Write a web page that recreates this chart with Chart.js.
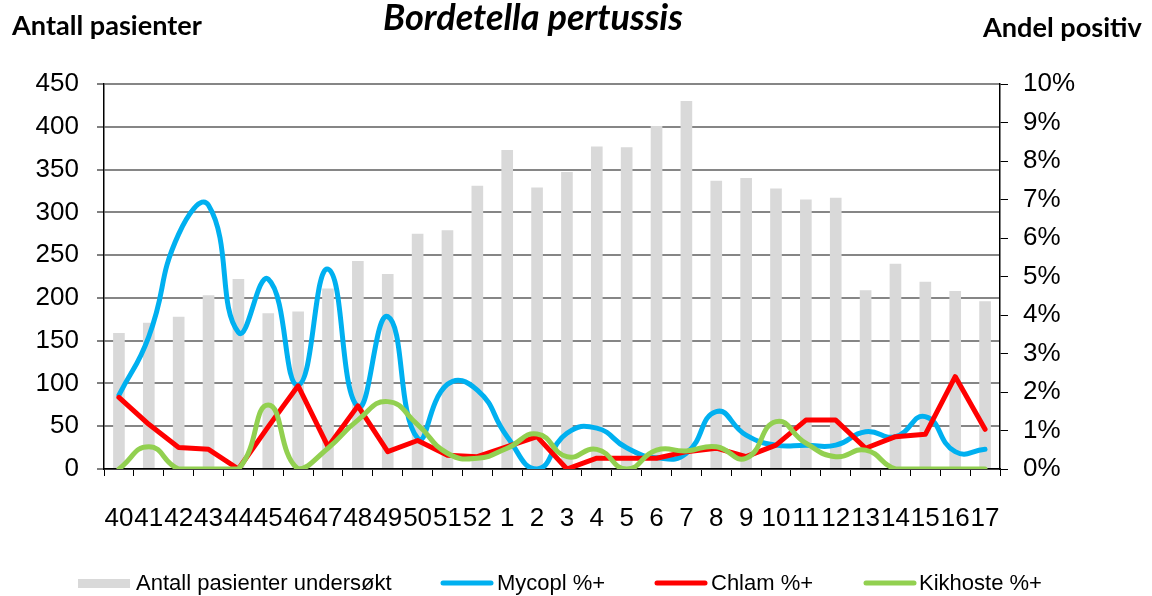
<!DOCTYPE html>
<html>
<head>
<meta charset="utf-8">
<style>
  html, body { margin: 0; padding: 0; background: #ffffff; }
  #wrap { width: 1152px; height: 596px; position: relative; }
</style>
<script src="https://cdn.jsdelivr.net/npm/chart.js@4.4.1/dist/chart.umd.min.js"></script>
</head>
<body>
<div id="wrap"><canvas id="c" width="1152" height="596"></canvas></div>
<script>
// ---- Data ----
const weeks = ['40','41','42','43','44','45','46','47','48','49','50','51','52',
               '1','2','3','4','5','6','7','8','9','10','11','12','13','14','15','16','17'];
const antallPasienter = [159,171,178,203,222,182,184,211,243,228,275,279,331,
                         373,329,347,377,376,401,430,337,340,328,315,317,209,240,219,208,196];
const mycoplPct = [1.92,3.44,6.1,6.85,3.55,4.93,2.18,5.19,1.62,3.96,0.8,2.2,2.05,
                   0.84,0.0,0.93,1.06,0.55,0.29,0.41,1.49,0.88,0.62,0.62,0.62,0.97,0.84,1.36,0.45,0.51];
const chlamPct = [1.86,1.16,0.56,0.51,0.0,1.1,2.16,0.58,1.64,0.45,0.74,0.36,0.32,
                  0.58,0.84,0.0,0.28,0.28,0.28,0.45,0.54,0.32,0.62,1.27,1.27,0.54,0.84,0.9,2.4,1.03];
const kikhostePct = [0,0.58,0,0,0,1.66,0,0.54,1.27,1.75,1.15,0.41,0.28,
                     0.54,0.91,0.32,0.51,0,0.49,0.47,0.58,0.28,1.23,0.67,0.32,0.49,0,0,0,0];
const seriesLabels = ['Antall pasienter undersøkt','Mycopl %+','Chlam %+','Kikhoste %+'];
const chartTitle = 'Bordetella pertussis';
const leftTitle = 'Antall pasienter';
const rightTitle = 'Andel positiv';

// ---- Styles ----
const TXT = "'Liberation Sans', Arial, sans-serif";
const TITLE_FONT = "Lato, 'Open Sans', sans-serif";

const titlesPlugin = {
  id: 'titles',
  afterDraw(chart) {
    const ctx = chart.ctx;
    ctx.save();
    ctx.fillStyle = '#000';
    ctx.textBaseline = 'alphabetic';
    ctx.textAlign = 'left';
    function fit(text, style, targetW, x, y) {
      ctx.font = style + ' 20px ' + TITLE_FONT;
      const w = ctx.measureText(text).width;
      const size = 20 * targetW / w;
      ctx.font = style + ' ' + size.toFixed(2) + 'px ' + TITLE_FONT;
      ctx.fillText(text, x, y);
    }
    fit(leftTitle, 'bold', 190, 12, 35);
    fit(chartTitle, 'italic bold', 300, 383, 30);
    fit(rightTitle, 'bold', 159, 983, 37);
    ctx.restore();
  }
};

const legendPlugin = {
  id: 'customLegend',
  afterDraw(chart) {
    const ctx = chart.ctx;
    const ds = chart.data.datasets;
    const items = [
      {x: 78, tx: 136},
      {x: 441, tx: 497},
      {x: 655, tx: 711},
      {x: 864, tx: 919}
    ];
    const cy = 583;
    ctx.save();
    ctx.font = '22px ' + TXT;
    ctx.textBaseline = 'middle';
    ctx.fillStyle = '#000';
    ds.forEach((d, i) => {
      const it = items[i];
      if (d.type === 'bar') {
        ctx.fillStyle = d.backgroundColor;
        ctx.fillRect(it.x, cy - 4, 52, 9);
      } else {
        ctx.strokeStyle = d.borderColor;
        ctx.lineWidth = 5;
        ctx.lineCap = 'round';
        ctx.beginPath();
        ctx.moveTo(it.x + 2, cy);
        ctx.lineTo(it.x + 50, cy);
        ctx.stroke();
      }
      ctx.fillStyle = '#000';
      ctx.fillText(d.label, it.tx, cy + 1);
    });
    ctx.restore();
  }
};

const ctx = document.getElementById('c').getContext('2d');
new Chart(ctx, {
  data: {
    labels: weeks,
    datasets: [
      { type: 'bar', label: seriesLabels[0], data: antallPasienter, yAxisID: 'y',
        backgroundColor: '#d9d9d9', barPercentage: 0.39, categoryPercentage: 1.0, order: 4 },
      { type: 'line', label: seriesLabels[1], data: mycoplPct, yAxisID: 'y2',
        borderColor: '#00b0f0', borderWidth: 5, tension: 0.5, pointRadius: 0,
        borderCapStyle: 'round', borderJoinStyle: 'round', fill: false, order: 3 },
      { type: 'line', label: seriesLabels[2], data: chlamPct, yAxisID: 'y2',
        borderColor: '#ff0000', borderWidth: 5, tension: 0, pointRadius: 0,
        borderCapStyle: 'round', borderJoinStyle: 'round', fill: false, order: 2 },
      { type: 'line', label: seriesLabels[3], data: kikhostePct, yAxisID: 'y2',
        borderColor: '#92d050', borderWidth: 5, tension: 0.5, pointRadius: 0,
        borderCapStyle: 'round', borderJoinStyle: 'round', fill: false, order: 1 }
    ]
  },
  options: {
    responsive: false,
    animation: false,
    devicePixelRatio: 1,
    layout: { padding: { top: 84, left: 0, right: 0, bottom: 0 } },
    plugins: { legend: { display: false }, title: { display: false }, tooltip: { enabled: false } },
    scales: {
      x: {
        type: 'category',
        offset: true,
        grid: { display: true, drawOnChartArea: false, offset: true, tickLength: 7,
                tickColor: '#000', tickWidth: 1 },
        border: { display: true, color: '#000', width: 1.5 },
        ticks: { autoSkip: false, maxRotation: 0, minRotation: 0, padding: 27,
                 color: '#000', font: { family: TXT, size: 26 } },
        afterFit(s) { s.height = 127; }
      },
      y: {
        position: 'left',
        min: 0, max: 450,
        grid: { color: '#868686', lineWidth: 2, tickLength: 7, tickColor: '#000', tickWidth: 1 },
        border: { display: true, color: '#000', width: 1.5 },
        ticks: { stepSize: 50, padding: 18, color: '#000', font: { family: TXT, size: 26 } },
        afterFit(s) { s.width = 104; }
      },
      y2: {
        position: 'right',
        min: 0, max: 10,
        grid: { drawOnChartArea: false, tickLength: 8, tickColor: '#000', tickWidth: 1 },
        border: { display: true, color: '#000', width: 1.5 },
        ticks: { stepSize: 1, padding: 15, color: '#000', font: { family: TXT, size: 26 },
                 callback: v => v + '%' },
        afterFit(s) { s.width = 152; }
      }
    }
  },
  plugins: [titlesPlugin, legendPlugin]
});
</script>
</body>
</html>
